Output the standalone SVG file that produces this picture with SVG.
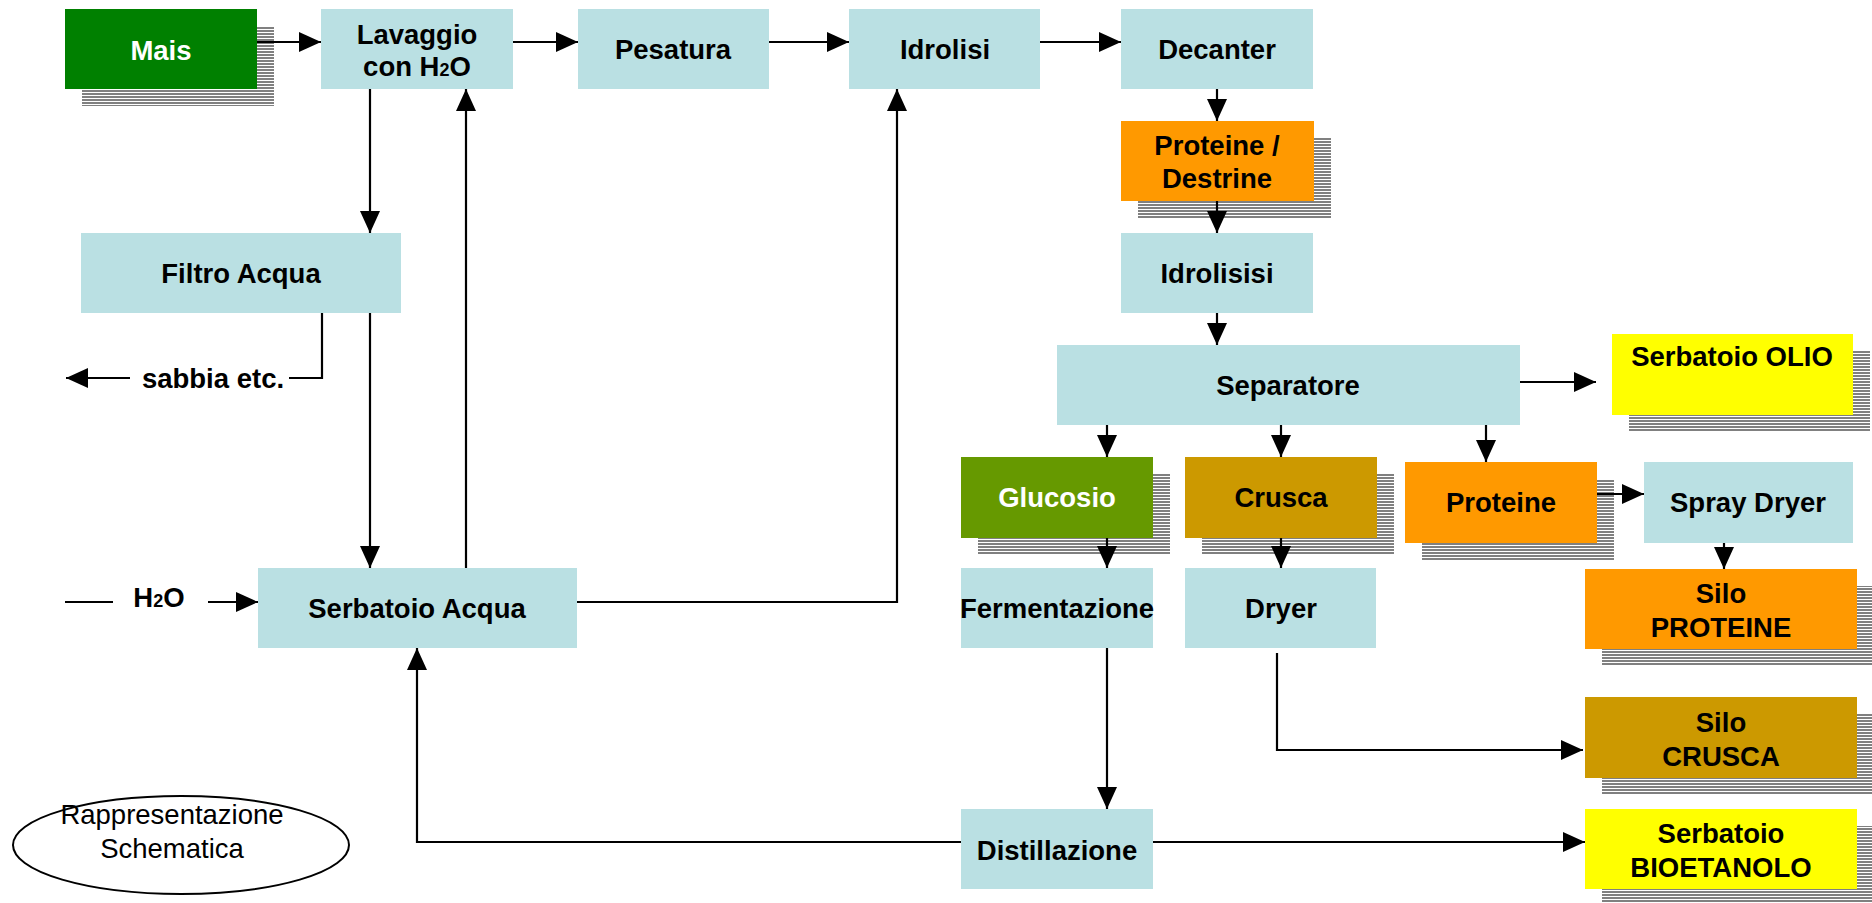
<svg xmlns="http://www.w3.org/2000/svg" width="1872" height="903" viewBox="0 0 1872 903">
<style>
.box{stroke:none}
.lb{fill:#BAE0E3}
.grn{fill:#008000}
.glu{fill:#669900}
.cru{fill:#CC9900}
.ora{fill:#FF9900}
.yel{fill:#FFFF00}
.sh{fill:url(#stripes)}
text{font-family:"Liberation Sans",Arial,sans-serif;font-size:27.5px;font-weight:bold;fill:#000;text-anchor:middle}
text.w{fill:#fff}
text.n{font-weight:normal;font-size:27.5px}
.sub{font-size:18px}
.c{fill:none;stroke:#000;stroke-width:2.2}
.a{marker-end:url(#ah)}
</style>
<defs>
<pattern id="stripes" patternUnits="userSpaceOnUse" width="6" height="3">
<rect x="0" y="0" width="6" height="2" fill="#808080"/>
</pattern>
<marker id="ah" markerUnits="userSpaceOnUse" markerWidth="22" markerHeight="20" refX="22" refY="10" orient="auto" viewBox="0 0 22 20">
<path d="M0,0 L22,10 L0,20 Z" fill="#000"/>
</marker>
</defs>
<rect width="1872" height="903" fill="#fff"/>

<g id="shadows">
<rect class="sh" x="82" y="26" width="192" height="80"/>
<rect class="sh" x="1138" y="138" width="193" height="80"/>
<rect class="sh" x="1629" y="351" width="241" height="81"/>
<rect class="sh" x="978" y="474" width="192" height="81"/>
<rect class="sh" x="1202" y="474" width="192" height="81"/>
<rect class="sh" x="1422" y="479" width="192" height="81"/>
<rect class="sh" x="1602" y="586" width="272" height="80"/>
<rect class="sh" x="1602" y="714" width="272" height="81"/>
<rect class="sh" x="1602" y="826" width="272" height="80"/>
</g>

<g id="connectors">
<line class="c a" x1="257" y1="42" x2="321" y2="42"/>
<line class="c a" x1="513" y1="42" x2="578" y2="42"/>
<line class="c a" x1="769" y1="42" x2="849" y2="42"/>
<line class="c a" x1="1040" y1="42" x2="1121" y2="42"/>
<line class="c a" x1="1217" y1="89" x2="1217" y2="121"/>
<line class="c a" x1="1217" y1="201" x2="1217" y2="233"/>
<line class="c a" x1="1217" y1="313" x2="1217" y2="345"/>
<line class="c a" x1="370" y1="89" x2="370" y2="233"/>
<line class="c a" x1="370" y1="313" x2="370" y2="568"/>
<line class="c a" x1="466" y1="568" x2="466" y2="89"/>
<polyline class="c a" points="577,602 897,602 897,89"/>
<polyline class="c" points="289,378 322,378 322,313"/>
<line class="c a" x1="130" y1="378" x2="66" y2="378"/>
<line class="c" x1="65" y1="602" x2="113" y2="602"/>
<line class="c a" x1="208" y1="602" x2="258" y2="602"/>
<line class="c a" x1="1516" y1="382" x2="1596" y2="382"/>
<line class="c a" x1="1107" y1="425" x2="1107" y2="457"/>
<line class="c a" x1="1281" y1="425" x2="1281" y2="457"/>
<line class="c a" x1="1486" y1="425" x2="1486" y2="462"/>
<line class="c a" x1="1107" y1="538" x2="1107" y2="568"/>
<line class="c a" x1="1281" y1="538" x2="1281" y2="568"/>
<line class="c a" x1="1596" y1="494" x2="1644" y2="494"/>
<line class="c a" x1="1724" y1="543" x2="1724" y2="569"/>
<polyline class="c a" points="1277,653 1277,750 1583,750"/>
<line class="c a" x1="1107" y1="648" x2="1107" y2="809"/>
<line class="c a" x1="1153" y1="842" x2="1585" y2="842"/>
<polyline class="c a" points="961,842 417,842 417,648"/>
</g>

<g id="mais"><rect class="box grn" x="65" y="9" width="192" height="80"/><text class="w" x="161" y="60">Mais</text></g>
<g id="lavaggio"><rect class="box lb" x="321" y="9" width="192" height="80"/><text x="417" y="44">Lavaggio</text><text x="417" y="76">con H<tspan class="sub">2</tspan>O</text></g>
<g id="pesatura"><rect class="box lb" x="578" y="9" width="191" height="80"/><text x="673" y="59">Pesatura</text></g>
<g id="idrolisi"><rect class="box lb" x="849" y="9" width="191" height="80"/><text x="945" y="59">Idrolisi</text></g>
<g id="decanter"><rect class="box lb" x="1121" y="9" width="192" height="80"/><text x="1217" y="59">Decanter</text></g>
<g id="proteine-destrine"><rect class="box ora" x="1121" y="121" width="193" height="80"/><text x="1217" y="155">Proteine /</text><text x="1217" y="188">Destrine</text></g>
<g id="filtro"><rect class="box lb" x="81" y="233" width="320" height="80"/><text x="241" y="283">Filtro Acqua</text></g>
<g id="idrolisisi"><rect class="box lb" x="1121" y="233" width="192" height="80"/><text x="1217" y="283">Idrolisisi</text></g>
<g id="separatore"><rect class="box lb" x="1057" y="345" width="463" height="80"/><text x="1288" y="395">Separatore</text></g>
<g id="olio"><rect class="box yel" x="1612" y="334" width="241" height="81"/><text x="1732" y="366">Serbatoio OLIO</text></g>
<g id="glucosio"><rect class="box glu" x="961" y="457" width="192" height="81"/><text class="w" x="1057" y="507">Glucosio</text></g>
<g id="crusca"><rect class="box cru" x="1185" y="457" width="192" height="81"/><text x="1281" y="507">Crusca</text></g>
<g id="proteine"><rect class="box ora" x="1405" y="462" width="192" height="81"/><text x="1501" y="512">Proteine</text></g>
<g id="spray"><rect class="box lb" x="1644" y="462" width="209" height="81"/><text x="1748" y="512">Spray Dryer</text></g>
<g id="sabbia"><text x="213" y="388">sabbia etc.</text></g>
<g id="h2o"><text x="159" y="607">H<tspan class="sub">2</tspan>O</text></g>
<g id="serbatoio-acqua"><rect class="box lb" x="258" y="568" width="319" height="80"/><text x="417" y="618">Serbatoio Acqua</text></g>
<g id="fermentazione"><rect class="box lb" x="961" y="568" width="192" height="80"/><text x="1057" y="618">Fermentazione</text></g>
<g id="dryer"><rect class="box lb" x="1185" y="568" width="191" height="80"/><text x="1281" y="618">Dryer</text></g>
<g id="silo-proteine"><rect class="box ora" x="1585" y="569" width="272" height="80"/><text x="1721" y="603">Silo</text><text x="1721" y="637">PROTEINE</text></g>
<g id="silo-crusca"><rect class="box cru" x="1585" y="697" width="272" height="81"/><text x="1721" y="732">Silo</text><text x="1721" y="766">CRUSCA</text></g>
<g id="distillazione"><rect class="box lb" x="961" y="809" width="192" height="80"/><text x="1057" y="860">Distillazione</text></g>
<g id="bioetanolo"><rect class="box yel" x="1585" y="809" width="272" height="80"/><text x="1721" y="843">Serbatoio</text><text x="1721" y="877">BIOETANOLO</text></g>
<g id="legenda"><ellipse cx="181" cy="845" rx="168" ry="49" fill="#fff" stroke="#000" stroke-width="2"/><text class="n" x="172" y="824">Rappresentazione</text><text class="n" x="172" y="858">Schematica</text></g>
</svg>
